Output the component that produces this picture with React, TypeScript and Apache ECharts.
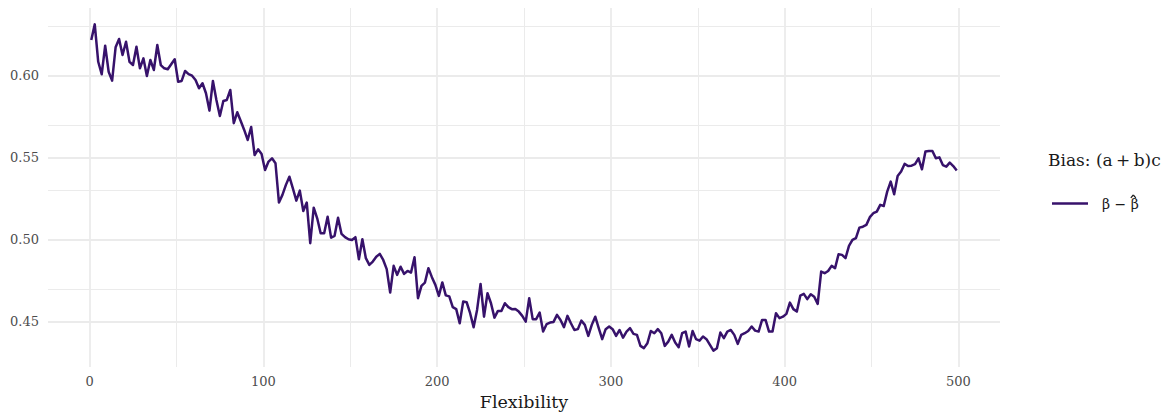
import React, { useEffect, useRef } from "react";
import * as echarts from "echarts";

// Flexibility sampled from 1 to 499 every 2 units
const FLEX_START = 1;
const FLEX_STEP = 2;

const bias: number[] = [
  0.6218, 0.6313, 0.6085, 0.6009, 0.6183, 0.6024, 0.5970, 0.6173, 0.6224, 0.6126,
  0.6207, 0.6085, 0.6065, 0.6177, 0.6045, 0.6106, 0.5998, 0.6096, 0.6035, 0.6187,
  0.6065, 0.6045, 0.6039, 0.6070, 0.6100, 0.5963, 0.5968, 0.6029, 0.6010, 0.6000,
  0.5974, 0.5923, 0.5954, 0.5893, 0.5787, 0.5968, 0.5852, 0.5754, 0.5846, 0.5852,
  0.5913, 0.5710, 0.5777, 0.5724, 0.5669, 0.5608, 0.5687, 0.5516, 0.5551, 0.5523,
  0.5425, 0.5476, 0.5496, 0.5466, 0.5226, 0.5273, 0.5334, 0.5384, 0.5313, 0.5238,
  0.5299, 0.5175, 0.5226, 0.4978, 0.5195, 0.5130, 0.5039, 0.5039, 0.5140, 0.5012,
  0.5023, 0.5134, 0.5035, 0.5015, 0.5002, 0.4998, 0.5015, 0.4880, 0.5002, 0.4887,
  0.4846, 0.4866, 0.4896, 0.4913, 0.4876, 0.4820, 0.4677, 0.4840, 0.4785, 0.4835,
  0.4791, 0.4809, 0.4799, 0.4893, 0.4643, 0.4718, 0.4738, 0.4826, 0.4771, 0.4724,
  0.4657, 0.4739, 0.4660, 0.4654, 0.4588, 0.4576, 0.4490, 0.4622, 0.4618, 0.4551,
  0.4466, 0.4571, 0.4730, 0.4530, 0.4673, 0.4612, 0.4524, 0.4565, 0.4565, 0.4612,
  0.4588, 0.4576, 0.4577, 0.4561, 0.4535, 0.4500, 0.4643, 0.4515, 0.4515, 0.4555,
  0.4439, 0.4484, 0.4494, 0.4498, 0.4541, 0.4510, 0.4466, 0.4535, 0.4490, 0.4449,
  0.4454, 0.4506, 0.4480, 0.4413, 0.4480, 0.4530, 0.4460, 0.4393, 0.4454, 0.4470,
  0.4454, 0.4413, 0.4449, 0.4402, 0.4439, 0.4460, 0.4425, 0.4419, 0.4352, 0.4338,
  0.4368, 0.4443, 0.4429, 0.4454, 0.4429, 0.4352, 0.4378, 0.4419, 0.4372, 0.4344,
  0.4429, 0.4439, 0.4348, 0.4443, 0.4393, 0.4384, 0.4409, 0.4393, 0.4358, 0.4323,
  0.4338, 0.4433, 0.4399, 0.4439, 0.4449, 0.4419, 0.4364, 0.4419, 0.4429, 0.4443,
  0.4470, 0.4445, 0.4439, 0.4510, 0.4510, 0.4439, 0.4439, 0.4551, 0.4521, 0.4530,
  0.4547, 0.4616, 0.4576, 0.4561, 0.4659, 0.4669, 0.4637, 0.4667, 0.4652, 0.4608,
  0.4805, 0.4795, 0.4809, 0.4840, 0.4826, 0.4911, 0.4907, 0.4887, 0.4962, 0.4998,
  0.5009, 0.5073, 0.5079, 0.5090, 0.5137, 0.5161, 0.5171, 0.5212, 0.5205, 0.5293,
  0.5354, 0.5277, 0.5388, 0.5415, 0.5462, 0.5449, 0.5451, 0.5460, 0.5496, 0.5429,
  0.5537, 0.5541, 0.5541, 0.5496, 0.5502, 0.5455, 0.5445, 0.5470, 0.5449, 0.5421,
];

const xTicks = [0, 100, 200, 300, 400, 500];
const yTicks = [0.45, 0.5, 0.55, 0.6];
const xMajorGrid = [0, 100, 200, 300, 400, 500];
const xMinorGrid = [50, 150, 250, 350, 450];
const yMajorGrid = [0.45, 0.5, 0.55, 0.6];
const yMinorGrid = [0.425, 0.475, 0.525, 0.575, 0.625];

const xTitle = "Flexibility";
const legendTitle = "Bias: (a\u2009+\u2009b)c";
const seriesLabel = "\u03B2 \u2212 \u03B2";

const LINE_COLOR = "#37126b";
const GRID_COLOR = "#ebebeb";
const FONT = "DejaVu Serif";

export default function App() {
  const ref = useRef<HTMLDivElement>(null);

  useEffect(() => {
    document.body.style.margin = "0";
    if (!ref.current) return;
    const chart = echarts.init(ref.current, undefined, { renderer: "svg" });

    const points = bias.map((v, i) => [FLEX_START + FLEX_STEP * i, v]);

    const gridData: any[] = [
      ...xMinorGrid.map((x) => ({ xAxis: x, lineStyle: { width: 1, color: GRID_COLOR, type: "solid" } })),
      ...yMinorGrid.map((y) => ({ yAxis: y, lineStyle: { width: 1, color: GRID_COLOR, type: "solid" } })),
      ...xMajorGrid.map((x) => ({ xAxis: x, lineStyle: { width: 1.8, color: GRID_COLOR, type: "solid" } })),
      ...yMajorGrid.map((y) => ({ yAxis: y, lineStyle: { width: 1.8, color: GRID_COLOR, type: "solid" } })),
    ];

    const option: any = {
      animation: false,
      backgroundColor: "#ffffff",
      textStyle: { fontFamily: FONT },
      grid: {
        left: 48,
        top: 8,
        width: 952,
        height: 359,
        containLabel: false,
        outerBoundsMode: "none",
      },
      xAxis: {
        type: "value",
        min: -23.9,
        max: 523.9,
        axisLine: { show: false },
        axisTick: { show: false },
        splitLine: { show: false },
        axisLabel: {
          customValues: xTicks,
          fontFamily: FONT,
          fontSize: 13,
          color: "#4d4d4d",
          margin: 8,
        },
        name: xTitle,
        nameLocation: "middle",
        nameGap: 25,
        nameTextStyle: { fontFamily: FONT, fontSize: 17.5, color: "#1a1a1a" },
      },
      yAxis: {
        type: "value",
        min: 0.4223,
        max: 0.6413,
        axisLine: { show: false },
        axisTick: { show: false },
        splitLine: { show: false },
        axisLabel: {
          customValues: yTicks,
          formatter: (v: number) => v.toFixed(2),
          fontFamily: FONT,
          fontSize: 13,
          color: "#4d4d4d",
          margin: 9,
        },
      },
      series: [
        {
          name: "grid",
          type: "line",
          data: points,
          showSymbol: false,
          silent: true,
          lineStyle: { opacity: 0 },
          z: 1,
          markLine: {
            silent: true,
            symbol: ["none", "none"],
            label: { show: false },
            data: gridData,
          },
        },
        {
          name: "β − β̂",
          type: "line",
          data: points,
          showSymbol: false,
          lineStyle: { color: LINE_COLOR, width: 2.5, join: "round" },
          itemStyle: { color: LINE_COLOR },
          z: 5,
        },
      ],
      graphic: {
        elements: [
          {
            type: "text",
            left: 1048,
            top: 151,
            z: 100,
            style: { text: legendTitle, font: `17px '${FONT}'`, fill: "#1a1a1a" },
          },
          {
            type: "line",
            z: 100,
            shape: { x1: 1052, y1: 203.5, x2: 1088, y2: 203.5 },
            style: { stroke: LINE_COLOR, lineWidth: 2.5 },
          },
          {
            type: "text",
            left: 1102,
            top: 197,
            z: 100,
            style: { text: seriesLabel, font: `14px '${FONT}'`, fill: "#1a1a1a" },
          },
          {
            type: "line",
            z: 100,
            shape: { x1: 1130.8, y1: 197.8, x2: 1133.3, y2: 195 },
            style: { stroke: "#1a1a1a", lineWidth: 1.2 },
          },
          {
            type: "line",
            z: 100,
            shape: { x1: 1133.3, y1: 195, x2: 1135.8, y2: 197.8 },
            style: { stroke: "#1a1a1a", lineWidth: 1.2 },
          },
        ],
      },
    };

    chart.setOption(option);
    return () => chart.dispose();
  }, []);

  return <div ref={ref} style={{ width: 1170, height: 415 }} />;
}
